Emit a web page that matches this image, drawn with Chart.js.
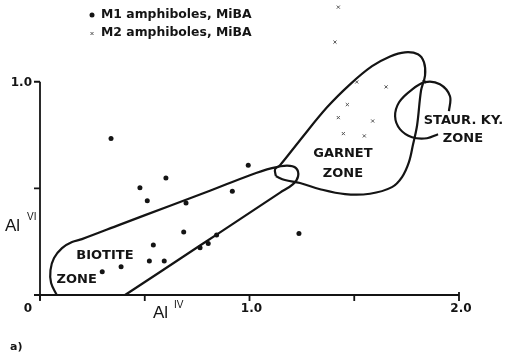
<!DOCTYPE html>
<html>
<head>
<meta charset="utf-8">
<script src="https://cdn.jsdelivr.net/npm/chart.js@4"></script>
<style>
  html, body { margin: 0; padding: 0; background: #fff; }
  canvas { display: block; }
</style>
</head>
<body>
<canvas id="chart" width="506" height="358"></canvas>
<script>
// M1 amphiboles (dots), Al(IV) vs Al(VI)
const m1Al4 = [0.339, 0.994, 0.601, 0.477, 0.918, 0.512, 0.697, 0.686, 0.541, 0.843, 0.803, 0.764, 0.522, 0.593, 0.387, 0.297, 1.236];
const m1Al6 = [0.734, 0.609, 0.549, 0.503, 0.487, 0.442, 0.432, 0.296, 0.234, 0.281, 0.242, 0.222, 0.160, 0.160, 0.133, 0.109, 0.289];

// M2 amphiboles (crosses)
const m2Al4 = [1.424, 1.408, 1.512, 1.652, 1.467, 1.424, 1.588, 1.448, 1.548, 1.833];
const m2Al6 = [1.350, 1.186, 0.999, 0.976, 0.893, 0.832, 0.816, 0.757, 0.746, 0.999];

// zone outlines
const biotiteAl4 = [0.080, 0.053, 0.050, 0.067, 0.105, 0.153, 0.200, 0.382, 0.621, 0.811, 1.002, 1.107, 1.179, 1.222, 1.232, 1.208, 1.146, 0.955, 0.764, 0.573, 0.406];
const biotiteAl6 = [0.000, 0.056, 0.117, 0.173, 0.220, 0.248, 0.262, 0.330, 0.419, 0.489, 0.562, 0.595, 0.607, 0.595, 0.557, 0.520, 0.480, 0.356, 0.232, 0.108, 0.000];

const garnetAl4 = [1.126, 1.122, 1.146, 1.241, 1.370, 1.480, 1.585, 1.671, 1.742, 1.804, 1.833, 1.838, 1.819, 1.800, 1.780, 1.761, 1.728, 1.680, 1.575, 1.456, 1.337, 1.241, 1.169, 1.126];
const garnetAl6 = [0.557, 0.590, 0.609, 0.726, 0.880, 0.988, 1.073, 1.119, 1.138, 1.129, 1.091, 1.030, 0.960, 0.796, 0.703, 0.623, 0.553, 0.506, 0.475, 0.473, 0.496, 0.525, 0.539, 0.557];

const staurAl4 = [1.900, 1.847, 1.776, 1.718, 1.695, 1.714, 1.771, 1.838, 1.909, 1.957, 1.952];
const staurAl6 = [0.754, 0.735, 0.740, 0.778, 0.838, 0.904, 0.960, 0.998, 0.988, 0.932, 0.862];

// axes
const xTickValues = [0, 0.5, 1.0, 1.5, 2.0];
const xTickLabels = ['0', '', '1.0', '', '2.0'];
const yTickValues = [0, 0.5, 1.0];
const yTickLabels = ['', '', '1.0'];
const yAxisTop = 1.0;

const legendLabels = ['M1 amphiboles, MiBA', 'M2 amphiboles, MiBA'];

const pts = (xs, ys) => xs.map((x, i) => ({ x: x, y: ys[i] }));
const ink = '#141414';

const outline = (xs, ys) => ({
    data: pts(xs, ys),
    showLine: true,
    borderColor: ink,
    borderWidth: 2.2,
    pointRadius: 0,
    tension: 0.35,
    fill: false,
    clip: false,
});

const paperPlugin = {
    id: 'paper',
    afterDraw(chart) {
        const ctx = chart.ctx;
        const xs = chart.scales.x;
        const ys = chart.scales.y;
        const px = (v) => xs.getPixelForValue(v);
        const py = (v) => ys.getPixelForValue(v);

        ctx.save();
        ctx.strokeStyle = ink;
        ctx.fillStyle = ink;
        ctx.lineWidth = 1.8;
        ctx.lineCap = 'butt';

        // axis lines (y axis stops at 1.0 even though the scale runs higher)
        ctx.beginPath();
        ctx.moveTo(px(0), py(0));
        ctx.lineTo(px(2.0), py(0));
        ctx.moveTo(px(0), py(0) + 5);
        ctx.lineTo(px(0), py(yAxisTop));
        ctx.stroke();

        // ticks
        ctx.beginPath();
        xTickValues.forEach(v => {
            ctx.moveTo(px(v), py(0));
            ctx.lineTo(px(v), py(0) + 6);
        });
        yTickValues.forEach(v => {
            ctx.moveTo(px(0), py(v));
            ctx.lineTo(px(0) - 6, py(v));
        });
        ctx.moveTo(px(2.0), py(0));
        ctx.lineTo(px(2.0), py(0) - 3);
        ctx.stroke();

        ctx.font = 'bold 12px "DejaVu Sans"';
        ctx.textAlign = 'center';
        ctx.textBaseline = 'middle';
        xTickLabels.forEach((t, i) => {
            if (!t) return;
            const off = xTickValues[i] === 0 ? -12 : 2;
            ctx.fillText(t, px(xTickValues[i]) + off, py(0) + 14);
        });
        ctx.textAlign = 'right';
        yTickLabels.forEach((t, i) => {
            if (!t) return;
            ctx.fillText(t, px(0) - 8, py(yTickValues[i]) + 1);
        });

        // axis titles
        ctx.textAlign = 'left';
        ctx.textBaseline = 'alphabetic';
        ctx.font = '17px "Liberation Sans"';
        ctx.fillText('Al', 5, 231);
        ctx.fillText('Al', 153, 318);
        ctx.font = '10px "Liberation Sans"';
        ctx.fillText('VI', 27, 220);
        ctx.fillText('IV', 174, 308);

        // zone labels
        ctx.font = 'bold 13px "DejaVu Sans"';
        ctx.textAlign = 'center';
        ctx.textBaseline = 'middle';
        ctx.fillText('BIOTITE', px(0.310), py(0.187));
        ctx.fillText('ZONE', px(0.175), py(0.070));
        ctx.fillText('GARNET', px(1.446), py(0.665));
        ctx.fillText('ZONE', px(1.446), py(0.571));
        ctx.fillText('STAUR. KY.', px(2.021), py(0.820));
        ctx.fillText('ZONE', px(2.019), py(0.735));

        // legend
        ctx.font = 'bold 12.4px "DejaVu Sans"';
        ctx.textAlign = 'left';
        ctx.fillText(legendLabels[0], 101, 15);
        ctx.fillText(legendLabels[1], 101, 33);
        ctx.beginPath();
        ctx.arc(92, 15, 2.5, 0, Math.PI * 2);
        ctx.fill();
        ctx.strokeStyle = '#555';
        ctx.lineWidth = 1;
        ctx.beginPath();
        ctx.moveTo(90.5, 32); ctx.lineTo(93.5, 35);
        ctx.moveTo(93.5, 32); ctx.lineTo(90.5, 35);
        ctx.stroke();

        ctx.fillStyle = ink;
        ctx.font = 'bold 11px "DejaVu Sans"';
        ctx.fillText('a)', 10, 347);
        ctx.restore();
    }
};

new Chart(document.getElementById('chart').getContext('2d'), {
    type: 'scatter',
    data: {
        datasets: [
            outline(biotiteAl4, biotiteAl6),
            outline(garnetAl4, garnetAl6),
            outline(staurAl4, staurAl6),
            {
                label: legendLabels[0],
                data: pts(m1Al4, m1Al6),
                pointStyle: 'circle',
                pointRadius: 2.5,
                pointBackgroundColor: ink,
                pointBorderWidth: 0,
                clip: false,
            },
            {
                label: legendLabels[1],
                data: pts(m2Al4, m2Al6),
                pointStyle: 'crossRot',
                pointRadius: 2.2,
                pointBorderColor: '#555',
                pointBorderWidth: 1,
                clip: false,
            },
        ]
    },
    options: {
        responsive: false,
        animation: false,
        events: [],
        layout: {
            padding: { left: 40, right: 47, top: 1, bottom: 63 },
        },
        plugins: {
            legend: { display: false },
            tooltip: { enabled: false },
        },
        scales: {
            x: { type: 'linear', min: 0, max: 2, display: false },
            y: { type: 'linear', min: 0, max: 1.36, display: false },
        },
    },
    plugins: [paperPlugin],
});
</script>
</body>
</html>
